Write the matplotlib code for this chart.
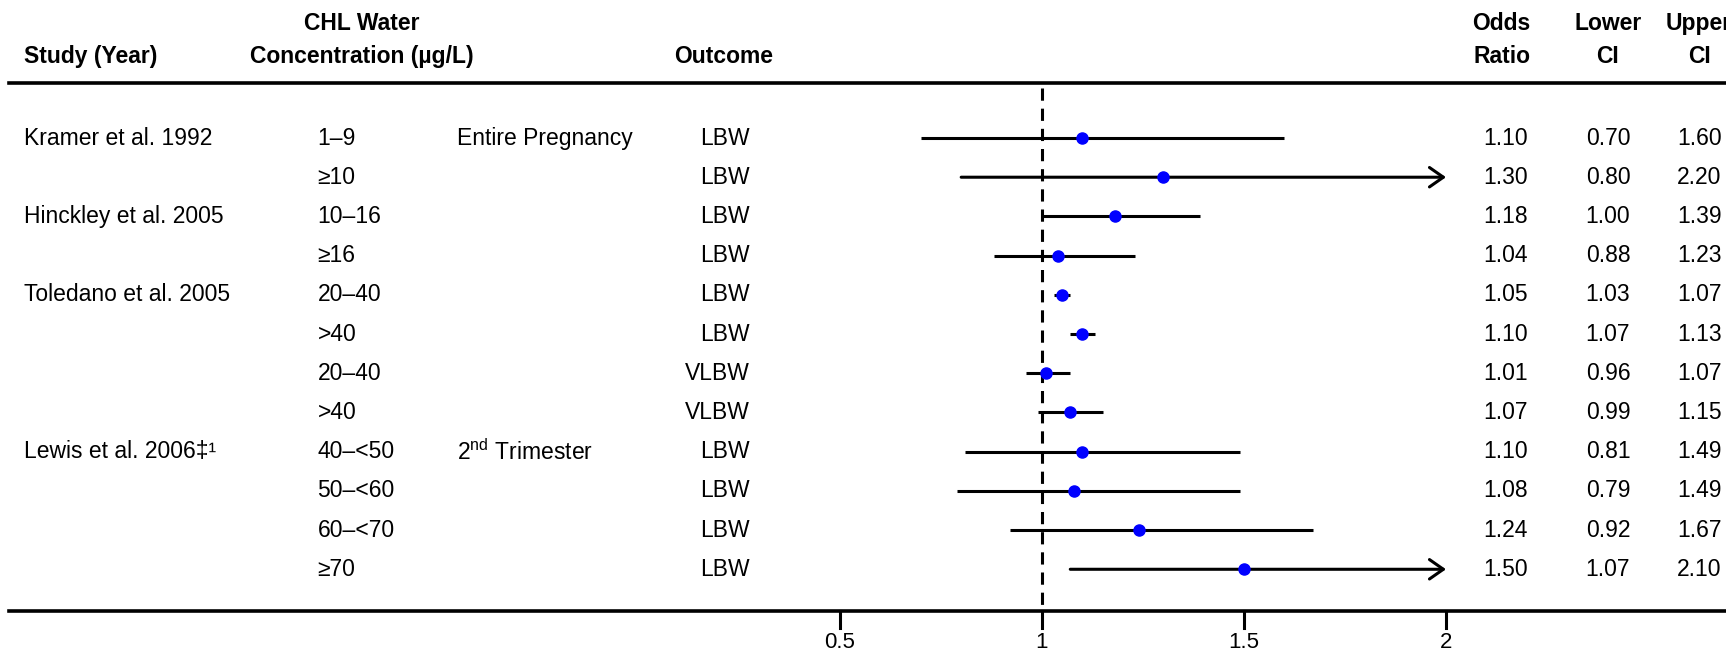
import matplotlib
matplotlib.use('Agg')
import matplotlib.pyplot as plt
from matplotlib.transforms import blended_transform_factory

plt.rcParams['font.family'] = ['Liberation Sans', 'DejaVu Sans']
plt.rcParams['mathtext.fontset'] = 'custom'
plt.rcParams['mathtext.rm'] = 'Liberation Sans'

# table data, one entry per row
studies = ['Kramer et al. 1992', '', 'Hinckley et al. 2005', '',
           'Toledano et al. 2005', '', '', '',
           'Lewis et al. 2006\u2021\u00b9', '', '', '']
concentration = ['1\u20139', '\u226510', '10\u201316', '\u226516',
                 '20\u201340', '>40', '20\u201340', '>40',
                 '40\u2013<50', '50\u2013<60', '60\u2013<70', '\u226570']
period = ['Entire Pregnancy', '', '', '', '', '', '', '',
          '2$^{\\mathrm{nd}}$ Trimester', '', '', '']
outcome = ['LBW', 'LBW', 'LBW', 'LBW', 'LBW', 'LBW', 'VLBW', 'VLBW',
           'LBW', 'LBW', 'LBW', 'LBW']
odds = [1.10, 1.30, 1.18, 1.04, 1.05, 1.10, 1.01, 1.07, 1.10, 1.08, 1.24, 1.50]
lower = [0.70, 0.80, 1.00, 0.88, 1.03, 1.07, 0.96, 0.99, 0.81, 0.79, 0.92, 1.07]
upper = [1.60, 2.20, 1.39, 1.23, 1.07, 1.13, 1.07, 1.15, 1.49, 1.49, 1.67, 2.10]
xticks = [0.5, 1, 1.5, 2]
x_clip = 2.0   # CIs beyond this get an arrow

FS = 16.5

fig = plt.figure(figsize=(17.26, 6.52), dpi=100)
ax = fig.add_axes([0, 0, 1, 1])
ax.axis('off')
ax.set_xlim(-1.579, 2.693)
ax.set_ylim(13.11, -3.52)
tr = blended_transform_factory(ax.transAxes, ax.transData)

rows = list(range(len(odds)))

# header
hdr = dict(fontsize=FS, fontweight='bold', transform=tr, va='center')
ax.text(0.0139, -2.07, 'Study (Year)', ha='left', **hdr)
ax.text(0.2097, -2.91, 'CHL Water', ha='center', **hdr)
ax.text(0.2097, -2.07, 'Concentration (\u00b5g/L)', ha='center', **hdr)
ax.text(0.3905, -2.07, 'Outcome', ha='left', **hdr)
for xc, l1, l2 in [(0.870, 'Odds', 'Ratio'), (0.9316, 'Lower', 'CI'),
                   (0.9844, 'Upper', 'CI')]:
  ax.text(xc, -2.91, l1, ha='center', **hdr)
  ax.text(xc, -2.07, l2, ha='center', **hdr)

ax.axhline(-1.40, xmin=0.005, xmax=1, color='black', lw=2.6)
ax.axhline(12.07, xmin=0.005, xmax=1, color='black', lw=2.6)

# row labels and values
txt = dict(fontsize=FS, transform=tr, va='center')
for i in rows:
  ax.text(0.0139, i, studies[i], ha='left', **txt)
  ax.text(0.184, i, concentration[i], ha='left', **txt)
  ax.text(0.2648, i, period[i], ha='left', **txt)
  ax.text(0.4345, i, outcome[i], ha='right', **txt)
  ax.text(0.872, i, '%.2f' % odds[i], ha='center', **txt)
  ax.text(0.9316, i, '%.2f' % lower[i], ha='center', **txt)
  ax.text(0.9844, i, '%.2f' % upper[i], ha='center', **txt)

# reference line at OR = 1
ax.plot([1, 1], [-1.28, 12.07], color='black', lw=2.2, ls=(0, (4, 2.6)))

# confidence intervals
for i in rows:
  if upper[i] > x_clip:
    ax.annotate('', xy=(x_clip, i), xytext=(lower[i], i),
                arrowprops=dict(arrowstyle='->,head_length=0.5,head_width=0.35',
                                lw=2.2, color='black', shrinkA=0, shrinkB=0,
                                mutation_scale=20))
  else:
    ax.plot([lower[i], upper[i]], [i, i], color='black', lw=2.2,
            solid_capstyle='butt')
ax.plot(odds, rows, 'o', color='#0000ff', ms=8, zorder=5)

# x axis ticks
for t in xticks:
  ax.plot([t, t], [12.07, 12.5], color='black', lw=2.2)
  ax.text(t, 12.86, '%g' % t, ha='center', va='center', fontsize=FS - 0.5)

fig.savefig('out.png', dpi=100)
